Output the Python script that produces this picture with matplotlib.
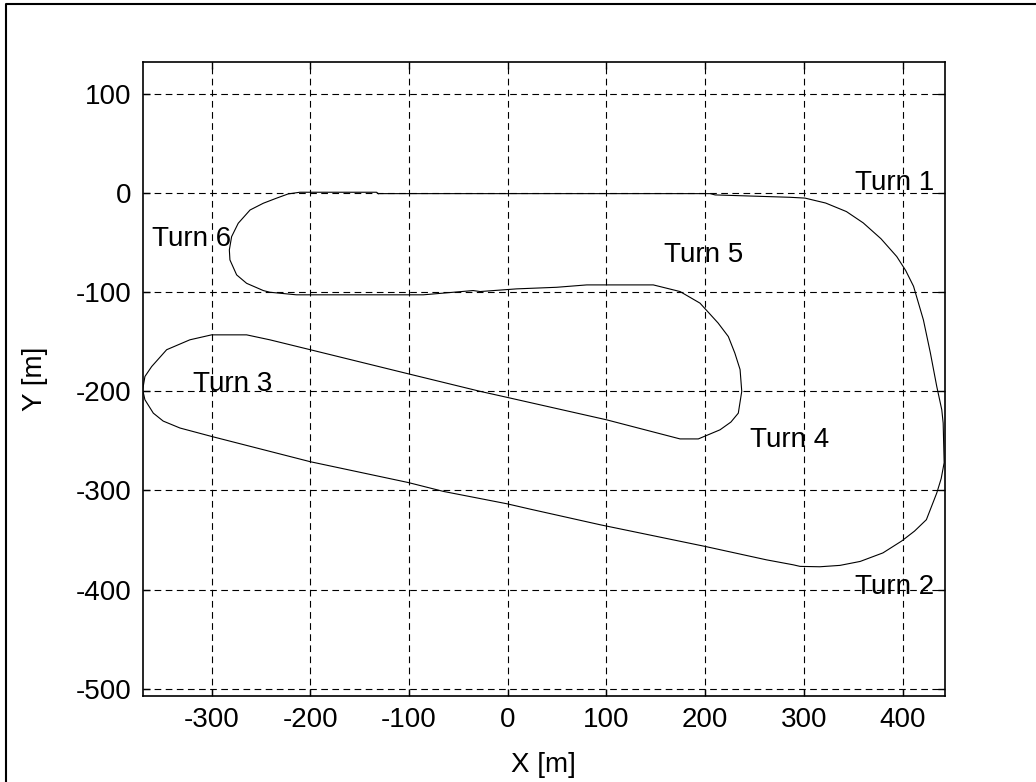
import matplotlib.pyplot as plt
from matplotlib.lines import Line2D

plt.rcParams['font.family'] = ['Liberation Sans', 'DejaVu Sans']
plt.rcParams['axes.unicode_minus'] = False

# track outline [m]
track_x = [-131, -40, 100, 205, 210, 286, 301, 322, 343, 360, 378, 394, 403, 411, 421, 428,
           434.5, 439.6, 441, 442, 439, 434.5, 424, 412, 399, 380, 357, 336.5, 316, 296,
           289, 262, 200, 93.5, 22.5, -1, -65, -100.8, -200, -300, -332, -349, -359,
           -367.5, -369.8, -367.5, -360.7, -345.5, -322, -300, -264.5, -241, -200,
           -100.8, -28, -1, 100, 174.5, 193, 215, 226, 233.5, 237, 235.3, 230, 223.4,
           213, 194.7, 174.5, 147.4, 80, 49.5, 9, -28, -35, -85.5, -214, -241, -247.6,
           -264.5, -274.6, -281.4, -282, -279.7, -273, -261, -247.6, -234, -222.4,
           -210.5, -133, -131]
track_y = [-0.5, -0.5, -0.5, -0.5, -1.8, -4.2, -5, -10, -18.6, -30, -46, -64, -78, -94,
           -128, -161, -195, -218.6, -232, -272, -288, -302.6, -329.5, -341, -351, -363,
           -371.6, -375.6, -377, -376.6, -375, -370, -356.5, -334.6, -318.8, -313.4,
           -301, -292, -271, -245.5, -237, -230, -222, -208.5, -198.4, -185, -175, -158,
           -148, -143, -143, -148, -158, -182.3, -200, -206, -228.7, -248, -248, -238.8,
           -231, -222, -200, -178, -161.4, -144.7, -131, -111, -99.3, -92.6, -92.6, -95,
           -96.6, -99.3, -98.3, -102.6, -102.6, -100, -98.3, -91, -82.5, -67.4, -57.3,
           -43.9, -30.4, -17, -10.2, -5, -0.8, 0.9, 0.9, -0.5]

turn_labels = ['Turn 1', 'Turn 2', 'Turn 3', 'Turn 4', 'Turn 5', 'Turn 6']
turn_x = [352, 352, -319, 245, 158, -360]
turn_y = [10, -397, -193, -249, -62, -46]

xticks = [-300, -200, -100, 0, 100, 200, 300, 400]
yticks = [-500, -400, -300, -200, -100, 0, 100]

fig = plt.figure(figsize=(10.36, 7.82), dpi=100)
ax = fig.add_axes([0.1377, 0.1106, 0.7745, 0.8101])

ax.plot(track_x, track_y, color='black', lw=0.8)
for lab, tx, ty in zip(turn_labels, turn_x, turn_y):
    ax.text(tx, ty, lab, fontsize=20, ha='left', va='center')

ax.set_xlim(-369.8, 442.9)
ax.set_ylim(-506.9, 132.3)
ax.set_xticks(xticks)
ax.set_yticks(yticks)
ax.tick_params(direction='in', top=True, right=True, length=5, width=1,
               labelsize=20, pad=8)
ax.grid(True, color='black', linestyle=(0, (6, 4)), lw=0.8)
for s in ax.spines.values():
    s.set_linewidth(1.2)
ax.set_xlabel('X [m]', fontsize=20, labelpad=14)
ax.set_ylabel('Y [m]', fontsize=20, labelpad=20)

# outer frame (only left and top edges show)
fig.add_artist(Line2D([6 / 1036, 6 / 1036, 1.0], [0.0, 1 - 4 / 782, 1 - 4 / 782],
                      transform=fig.transFigure, color='black', lw=1.5))

fig.savefig('out.png', dpi=100)
